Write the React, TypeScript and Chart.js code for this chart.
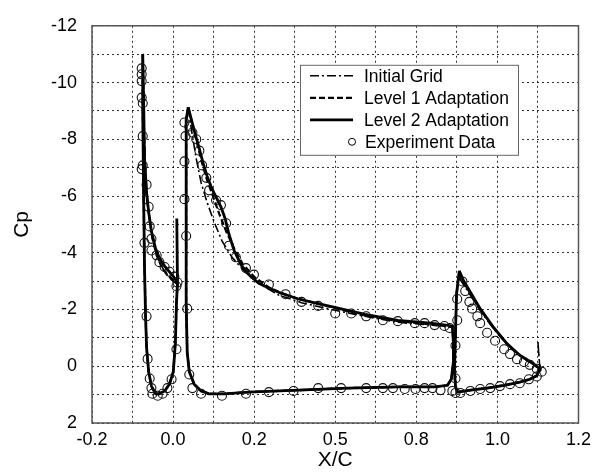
import React, { useEffect, useRef } from "react";
import { Chart, registerables } from "chart.js";

Chart.register(...registerables);

// ---------- tick labels / names ----------
const xTickLabels = ["-0.2", "0.0", "0.2", "0.5", "0.8", "1.0", "1.2"];
const yTickLabels = [-12, -10, -8, -6, -4, -2, 0, 2];
const seriesNames = ["Initial Grid", "Level 1 Adaptation", "Level 2 Adaptation", "Experiment Data"];

// ---------- lower surfaces (leading edge -> trailing edge), [X/C, Cp] ----------
const slatLower: [number, number][] = [
  [-0.054, -11.01], [-0.054, -9.03], [-0.051, -5.62], [-0.049, -3.57], [-0.046, -1.86],
  [-0.043, -0.67], [-0.037, 0.19], [-0.029, 0.7], [-0.017, 0.97], [-0.006, 0.97],
  [0.009, 0.87], [0.023, 0.63], [0.034, 0.19], [0.04, -0.84], [0.043, -2.2], [0.046, -2.95],
];
const mainLower: [number, number][] = [
  [0.077, -9.13], [0.071, -8.69], [0.071, -5.62], [0.071, -2.2], [0.074, -0.49],
  [0.08, 0.19], [0.094, 0.63], [0.114, 0.87], [0.137, 0.97], [0.18, 0.97],
  [0.251, 0.91], [0.394, 0.84], [0.537, 0.77], [0.68, 0.73], [0.786, 0.73],
  [0.823, 0.67], [0.834, 0.46], [0.84, -0.15], [0.84, -0.84], [0.837, -1.42],
];
const flapLower: [number, number][] = [
  [0.857, -3.36], [0.849, -2.54], [0.846, -1.18], [0.843, 0.19], [0.846, 0.7],
  [0.851, 0.91], [0.889, 0.84], [0.937, 0.77], [0.986, 0.67], [1.031, 0.56],
  [1.06, 0.46], [1.08, 0.33], [1.089, 0.09],
];

// ---------- Level 2 adaptation upper surfaces ----------
const level2SlatUpper: [number, number][] = [
  [-0.054, -11.01], [-0.051, -9.03], [-0.049, -7.32], [-0.043, -6.13], [-0.037, -5.44],
  [-0.029, -4.76], [-0.017, -4.15], [-0.006, -3.81], [0.009, -3.53], [0.023, -3.33],
  [0.037, -3.12], [0.046, -2.95], [0.044, -5.21], [0.046, -2.95],
];
const level2MainUpper: [number, number][] = [
  [0.077, -9.13], [0.086, -8.69], [0.097, -8.18], [0.109, -7.66], [0.12, -7.15],
  [0.131, -6.71], [0.146, -6.23], [0.16, -5.89], [0.171, -5.62], [0.183, -5.21],
  [0.194, -4.66], [0.209, -4.08], [0.229, -3.57], [0.251, -3.23], [0.28, -2.92],
  [0.337, -2.61], [0.394, -2.37], [0.489, -2.1], [0.586, -1.83], [0.68, -1.62],
  [0.774, -1.52], [0.837, -1.42],
];
const level2FlapUpper: [number, number][] = [
  [0.857, -3.36], [0.869, -3.02], [0.889, -2.61], [0.917, -2.03], [0.957, -1.35],
  [0.994, -0.8], [1.031, -0.39], [1.071, -0.08], [1.089, 0.09],
];

// ---------- Level 1 adaptation upper surfaces ----------
const level1SlatUpper: [number, number][] = [
  [-0.054, -10.94], [-0.051, -9.03], [-0.049, -7.32], [-0.043, -5.96], [-0.034, -5.17],
  [-0.026, -4.49], [-0.014, -3.91], [0.003, -3.43], [0.023, -3.16], [0.046, -2.92],
];
const level1MainUpper: [number, number][] = [
  [0.077, -9.13], [0.089, -8.52], [0.103, -7.83], [0.117, -7.15], [0.131, -6.57],
  [0.149, -5.96], [0.166, -5.38], [0.186, -4.76], [0.209, -4.15], [0.234, -3.6],
  [0.266, -3.16], [0.309, -2.78], [0.366, -2.47], [0.451, -2.2], [0.586, -1.79],
  [0.68, -1.59], [0.774, -1.48], [0.837, -1.38],
];
const level1FlapUpper: [number, number][] = [
  [0.857, -3.25], [0.869, -2.95], [0.889, -2.56], [0.917, -2.0], [0.957, -1.33],
  [0.994, -0.79], [1.031, -0.38], [1.071, -0.07], [1.089, 0.1],
];

// ---------- Initial grid upper surfaces ----------
const initialSlatUpper: [number, number][] = [
  [-0.054, -10.74], [-0.051, -8.69], [-0.046, -6.98], [-0.04, -5.79], [-0.031, -4.93],
  [-0.02, -4.18], [-0.006, -3.67], [0.011, -3.29], [0.029, -3.05], [0.046, -2.88],
];
const initialMainUpper: [number, number][] = [
  [0.077, -9.1], [0.086, -8.35], [0.1, -7.32], [0.114, -6.47], [0.131, -5.79],
  [0.151, -5.1], [0.174, -4.42], [0.203, -3.84], [0.243, -3.29], [0.289, -2.85],
  [0.337, -2.51], [0.403, -2.24], [0.489, -2.0], [0.586, -1.76], [0.68, -1.55],
  [0.774, -1.45], [0.837, -1.38],
];
const initialFlapUpper: [number, number][] = [
  [0.857, -3.1], [0.869, -2.88], [0.889, -2.5], [0.917, -1.96], [0.957, -1.3],
  [0.994, -0.77], [1.031, -0.37], [1.071, -0.06], [1.089, 0.1], [1.083, -0.9], [1.089, 0.1],
];

// ---------- Experiment data ----------
const expSlat: [number, number][] = [
  [-0.057, -10.5], [-0.057, -10.29], [-0.057, -10.05], [-0.057, -9.47], [-0.054, -9.27],
  [-0.054, -8.11], [-0.054, -7.08], [-0.057, -6.95], [-0.043, -6.4], [-0.037, -5.62],
  [-0.034, -4.93], [-0.029, -4.49], [-0.049, -4.35], [-0.029, -4.08], [-0.014, -3.91],
  [-0.006, -3.67], [0.009, -3.5], [0.023, -3.33], [0.037, -3.16], [0.046, -2.95],
  [0.043, -2.82], [-0.043, -1.76], [-0.04, -0.26], [-0.034, 0.43], [-0.029, 0.77],
  [-0.026, 0.97], [-0.011, 1.04], [0.003, 0.97], [0.017, 0.77], [0.029, 0.46], [0.043, -0.6],
];
const expMain: [number, number][] = [
  [0.066, -8.59], [0.069, -8.11], [0.066, -7.22], [0.066, -5.89], [0.071, -4.59],
  [0.074, -2.03], [0.08, 0.29], [0.089, 0.77], [0.114, 0.97], [0.174, 1.04],
  [0.243, 0.97], [0.309, 0.91], [0.38, 0.87], [0.451, 0.77], [0.517, 0.77],
  [0.589, 0.77], [0.637, 0.77], [0.666, 0.77], [0.7, 0.8], [0.731, 0.8],
  [0.757, 0.77], [0.78, 0.77], [0.803, 0.84], [0.837, 0.87],
  [0.08, -8.45], [0.089, -8.24], [0.1, -8.0], [0.109, -7.6], [0.117, -7.08],
  [0.129, -6.64], [0.137, -6.2], [0.157, -5.85], [0.171, -5.68], [0.186, -5.04],
  [0.194, -4.25], [0.214, -3.84], [0.243, -3.46], [0.266, -3.23], [0.309, -2.88],
  [0.357, -2.54], [0.403, -2.27], [0.451, -2.13], [0.5, -1.86], [0.546, -1.86],
  [0.589, -1.76], [0.637, -1.62], [0.68, -1.59], [0.729, -1.52], [0.757, -1.52],
  [0.786, -1.45], [0.814, -1.42], [0.829, -1.35],
];
const expFlap: [number, number][] = [
  [0.851, -2.37], [0.851, -1.62], [0.846, -0.73], [0.846, 0.43], [0.846, 0.94],
  [0.866, -2.99], [0.874, -2.65], [0.886, -2.27], [0.894, -2.03], [0.909, -1.76],
  [0.917, -1.52], [0.937, -1.18], [0.96, -0.9], [0.986, -0.6], [1.003, -0.43],
  [1.023, -0.25], [1.043, -0.15], [1.06, -0.05], [1.08, 0.09], [1.094, 0.19],
  [0.86, 0.94], [0.889, 0.87], [0.917, 0.8], [0.946, 0.77], [0.974, 0.7],
  [1.003, 0.63], [1.031, 0.6], [1.057, 0.46], [1.08, 0.36],
];

// ---------- styles ----------
const FONT = "'Liberation Sans', Arial, Helvetica, sans-serif";
const lineStyles = [
  { dash: [9, 3, 2, 3], width: 1.6 },
  { dash: [6, 3], width: 2.2 },
  { dash: [] as number[], width: 2.8 },
];

const toPoints = (arr: [number, number][]) => arr.map(([x, y]) => ({ x, y }));
const loop = (upper: [number, number][], lower: [number, number][]) =>
  toPoints([...upper, ...[...lower].reverse()]);

const framePlugin = {
  id: "frame",
  beforeDatasetsDraw(chart: any) {
    const { ctx, chartArea: a } = chart;
    ctx.save();
    ctx.strokeStyle = "#555";
    ctx.lineWidth = 1.5;
    ctx.setLineDash([]);
    ctx.strokeRect(a.left, a.top, a.right - a.left, a.bottom - a.top);
    ctx.restore();
  },
};

const legendPlugin = {
  id: "insideLegend",
  afterDraw(chart: any) {
    const { ctx, chartArea: a } = chart;
    const bx = a.left + 208;
    const by = a.top + 39;
    const bw = 218;
    const bh = 90;
    ctx.save();
    ctx.fillStyle = "#fff";
    ctx.fillRect(bx, by, bw, bh);
    ctx.strokeStyle = "#666";
    ctx.lineWidth = 1;
    ctx.setLineDash([]);
    ctx.strokeRect(bx + 0.5, by + 0.5, bw, bh);
    ctx.font = `17.5px ${FONT}`;
    ctx.fillStyle = "#000";
    ctx.textBaseline = "middle";
    ctx.textAlign = "left";
    seriesNames.forEach((name, i) => {
      const yy = by + 11 + i * 22;
      if (i < 3) {
        ctx.beginPath();
        ctx.strokeStyle = "#000";
        ctx.lineWidth = lineStyles[i].width;
        ctx.setLineDash(lineStyles[i].dash);
        ctx.moveTo(bx + 10, yy);
        ctx.lineTo(bx + 53, yy);
        ctx.stroke();
        ctx.setLineDash([]);
        ctx.fillText(name, bx + 64, yy + 1);
      } else {
        ctx.beginPath();
        ctx.strokeStyle = "#000";
        ctx.lineWidth = 1;
        ctx.arc(bx + 52, yy, 3.5, 0, Math.PI * 2);
        ctx.stroke();
        ctx.fillText(name, bx + 65, yy + 1);
      }
    });
    ctx.restore();
  },
};

export default function App() {
  const ref = useRef<HTMLCanvasElement | null>(null);

  useEffect(() => {
    if (!ref.current) return;
    const uppers = [
      [initialSlatUpper, initialMainUpper, initialFlapUpper],
      [level1SlatUpper, level1MainUpper, level1FlapUpper],
      [level2SlatUpper, level2MainUpper, level2FlapUpper],
    ];
    const lowers = [slatLower, mainLower, flapLower];
    const datasets: any[] = [];
    datasets.push({
      label: seriesNames[3],
      data: toPoints([...expSlat, ...expMain, ...expFlap]),
      showLine: false,
      pointStyle: "circle",
      pointRadius: 4.5,
      pointBorderWidth: 1.1,
      pointBorderColor: "#111",
      pointBackgroundColor: "rgba(0,0,0,0)",
    });
    [2, 1, 0].forEach((s) => {
      uppers[s].forEach((up, e) => {
        datasets.push({
          label: seriesNames[s],
          data: loop(up, lowers[e]),
          showLine: true,
          borderColor: "#000",
          borderWidth: lineStyles[s].width,
          borderDash: lineStyles[s].dash,
          pointRadius: 0,
          tension: 0,
          fill: false,
        });
      });
    });

    const tickFont = { family: FONT, size: 18 };
    const gridColor = "rgba(0,0,0,0.8)";
    const chart = new Chart(ref.current, {
      type: "scatter",
      data: { datasets },
      options: {
        animation: false,
        responsive: false,
        maintainAspectRatio: false,
        layout: { padding: { top: 13, right: 15, left: 0, bottom: 0 } },
        plugins: { legend: { display: false }, tooltip: { enabled: false } },
        scales: {
          x: {
            type: "linear",
            min: -0.2,
            max: 1.2,
            afterBuildTicks: (scale: any) => {
              scale.ticks = Array.from({ length: 13 }, (_, i) => ({ value: -0.2 + (i * 1.4) / 12 }));
            },
            afterFit: (scale: any) => {
              scale.height = 52;
            },
            ticks: {
              autoSkip: false,
              maxRotation: 0,
              padding: 6,
              color: "#000",
              font: tickFont,
              callback: (_v: any, i: number) => (i % 2 === 0 ? xTickLabels[i / 2] : ""),
            },
            grid: { color: gridColor, lineWidth: 1, drawTicks: false },
            border: { display: false, dash: [2, 3] },
            title: {
              display: true,
              text: "X/C",
              color: "#000",
              font: { family: FONT, size: 21 },
              padding: { top: 0, bottom: 2 },
            },
          },
          y: {
            type: "linear",
            reverse: true,
            min: -12,
            max: 2,
            afterFit: (scale: any) => {
              scale.width = 92;
            },
            ticks: {
              stepSize: 1,
              autoSkip: false,
              padding: 15,
              color: "#000",
              font: tickFont,
              callback: (v: any) => (yTickLabels.includes(Number(v)) ? String(v) : ""),
            },
            grid: { color: gridColor, lineWidth: 1, drawTicks: false },
            border: { display: false, dash: [2, 3] },
            title: {
              display: true,
              text: "Cp",
              color: "#000",
              font: { family: FONT, size: 21 },
              padding: { top: 10, bottom: 0 },
            },
          },
        },
      },
      plugins: [framePlugin, legendPlugin],
    });
    return () => chart.destroy();
  }, []);

  return (
    <div style={{ position: "fixed", left: 0, top: 0, width: 597, height: 475, background: "#fff" }}>
      <canvas ref={ref} width={597} height={475} style={{ display: "block" }} />
    </div>
  );
}
